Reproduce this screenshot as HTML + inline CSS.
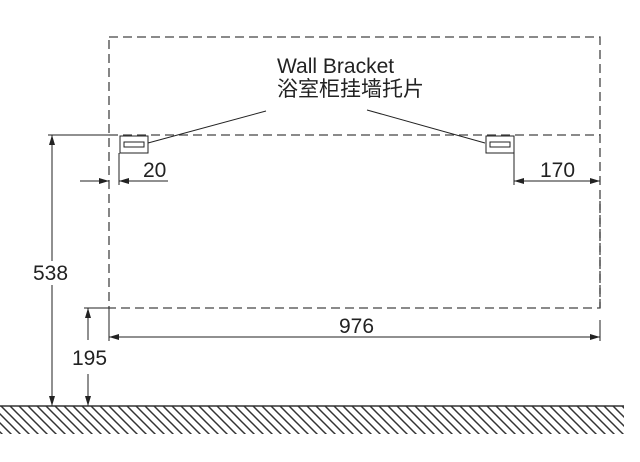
<!DOCTYPE html><html><head><style>body{margin:0;background:#fff}svg{display:block}</style></head><body>
<svg width="640" height="462" xmlns="http://www.w3.org/2000/svg" font-family="Liberation Sans, Arial, sans-serif">
<defs>
<marker id="a" viewBox="0 0 10 6" refX="10" refY="3" markerWidth="10" markerHeight="6" orient="auto-start-reverse" markerUnits="userSpaceOnUse"><path d="M0,0L10,3L0,6z" fill="#222"/></marker>
<pattern id="h" width="9" height="9" patternUnits="userSpaceOnUse"><path d="M-2,-2L11,11M-11,-2L2,11M7,-2L20,11" stroke="#333" stroke-width="1.5"/></pattern>
</defs>
<g fill="none" stroke="#444" stroke-width="1.3" stroke-dasharray="9,5">
<rect x="109" y="37" width="491" height="271"/>
<line x1="109" y1="135" x2="600" y2="135"/>
<line x1="600" y1="308" x2="600" y2="200"/>
</g>
<g stroke="#222" stroke-width="1" fill="none">
<line x1="48" y1="135" x2="109" y2="135"/>
<line x1="84" y1="308" x2="109" y2="308"/>
<line x1="52" y1="135" x2="52" y2="406" marker-start="url(#a)" marker-end="url(#a)"/>
<line x1="88" y1="308" x2="88" y2="340" marker-start="url(#a)"/>
<line x1="88" y1="374" x2="88" y2="406" marker-end="url(#a)"/>
<line x1="109" y1="308" x2="109" y2="341"/><line x1="600" y1="320" x2="600" y2="341"/>
<line x1="109" y1="337" x2="600" y2="337" marker-start="url(#a)" marker-end="url(#a)"/>
<line x1="119" y1="153" x2="119" y2="185"/>
<line x1="80" y1="181" x2="109" y2="181" marker-end="url(#a)"/>
<line x1="119" y1="181" x2="168" y2="181" marker-start="url(#a)"/>
<line x1="514" y1="153" x2="514" y2="185"/>
<line x1="514" y1="181" x2="600" y2="181" marker-start="url(#a)" marker-end="url(#a)"/>
<line x1="148" y1="143" x2="266" y2="111"/>
<line x1="485" y1="143" x2="367" y2="110"/>
<rect x="120" y="136" width="28" height="17" fill="#fff"/>
<rect x="124" y="142" width="20" height="5"/>
<rect x="486" y="136" width="28" height="17" fill="#fff"/>
<rect x="490" y="142" width="20" height="5"/>
</g>
<rect x="31" y="261" width="40" height="24" fill="#fff"/>
<rect x="70" y="345" width="38" height="24" fill="#fff"/>
<rect x="0" y="406" width="624" height="28" fill="url(#h)"/>
<line x1="0" y1="406" x2="624" y2="406" stroke="#333" stroke-width="1.5"/>
<g fill="#222" font-size="21">
<text x="277" y="73">Wall Bracket</text>
<text x="277" y="96" font-family="Liberation Sans, Noto Sans CJK SC, sans-serif">浴室柜挂墙托片</text>
<text x="143" y="177">20</text>
<text x="540" y="177">170</text>
<text x="33" y="280">538</text>
<text x="72" y="365">195</text>
<text x="339" y="333">976</text>
</g>
</svg></body></html>
